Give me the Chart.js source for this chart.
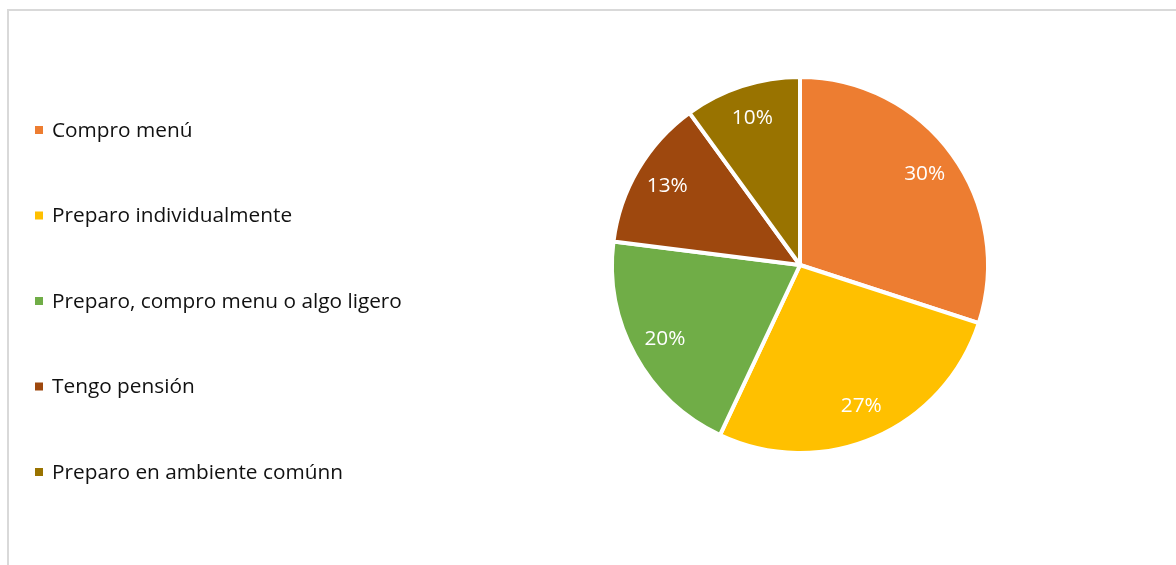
<!DOCTYPE html>
<html>
<head>
<meta charset="utf-8">
<script src="https://cdn.jsdelivr.net/npm/chart.js@4.4.0/dist/chart.umd.min.js"></script>
<style>
  html, body { margin: 0; padding: 0; background: #fff; overflow: hidden; }
  #wrap { position: absolute; left: 0; top: 0; width: 1176px; height: 565px; }
  #frame { position: absolute; left: 7px; top: 9px; width: 2000px; height: 2000px; border: 2px solid #d9d9d9; pointer-events: none; }
</style>
</head>
<body>
<div id="wrap"><canvas id="c" width="1176" height="565"></canvas></div>
<div id="frame"></div>
<script>
const categories = ["Compro menú", "Preparo individualmente", "Preparo, compro menu o algo ligero", "Tengo pensión", "Preparo en ambiente comúnn"];
const values = [30, 27, 20, 13, 10];
const percentLabels = ["30%", "27%", "20%", "13%", "10%"];
const colors = ["#ED7D31", "#FFC000", "#70AD47", "#9E480E", "#997300"];

const FONT = "'Open Sans', sans-serif";

const sideLegend = {
  id: 'sideLegend',
  afterDraw(chart) {
    const ctx = chart.ctx;
    ctx.save();
    ctx.font = "20.8px " + FONT;
    ctx.textBaseline = 'middle';
    ctx.textAlign = 'left';
    const startY = 130, step = 85.5;
    chart.data.labels.forEach((lab, i) => {
      const y = startY + i * step;
      ctx.fillStyle = chart.data.datasets[0].backgroundColor[i];
      ctx.fillRect(35, y - 4, 8, 8);
      ctx.fillStyle = '#111';
      ctx.fillText(lab, 52, y + 1);
    });
    ctx.restore();
  }
};

const sliceLabels = {
  id: 'sliceLabels',
  afterDatasetsDraw(chart) {
    const ctx = chart.ctx;
    const meta = chart.getDatasetMeta(0);
    ctx.save();
    ctx.font = "20.8px " + FONT;
    ctx.fillStyle = '#fff';
    ctx.textAlign = 'center';
    ctx.textBaseline = 'middle';
    meta.data.forEach((arc, i) => {
      const p = arc.getProps(['x', 'y', 'startAngle', 'endAngle', 'outerRadius'], true);
      const mid = (p.startAngle + p.endAngle) / 2;
      const r = p.outerRadius * 0.82;
      ctx.fillText(percentLabels[i], p.x + Math.cos(mid) * r, p.y + Math.sin(mid) * r);
    });
    ctx.restore();
  }
};

new Chart(document.getElementById('c'), {
  type: 'pie',
  data: {
    labels: categories,
    datasets: [{
      data: values,
      backgroundColor: colors,
      borderColor: '#ffffff',
      borderWidth: 4,
      hoverOffset: 0,
      offset: 0
    }]
  },
  options: {
    responsive: false,
    animation: false,
    events: [],
    layout: { padding: { left: 610, right: 186, top: 75, bottom: 110 } },
    plugins: {
      legend: { display: false },
      tooltip: { enabled: false }
    }
  },
  plugins: [sliceLabels, sideLegend]
});
</script>
</body>
</html>
